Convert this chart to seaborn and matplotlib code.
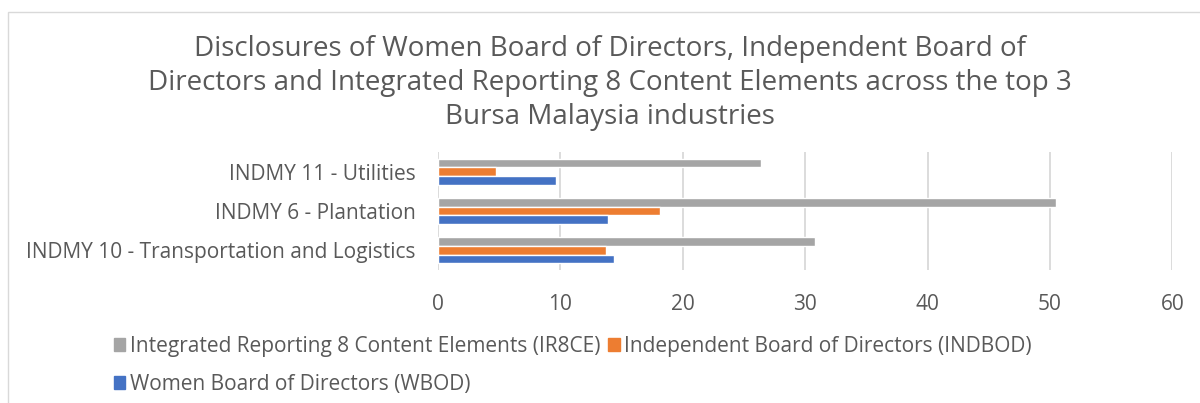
import matplotlib
matplotlib.use("Agg")
import matplotlib.pyplot as plt
import seaborn as sns
import pandas as pd
from matplotlib.patches import Rectangle

industries = [
    "INDMY 11 - Utilities",
    "INDMY 6 - Plantation",
    "INDMY 10 - Transportation and Logistics",
]
series = [
    "Integrated Reporting 8 Content Elements (IR8CE)",
    "Independent Board of Directors (INDBOD)",
    "Women Board of Directors (WBOD)",
]
ir8ce = [26.4, 50.5, 30.8]
indbod = [4.7, 18.1, 13.7]
wbod = [9.6, 13.9, 14.4]
colors = ["#a5a5a5", "#ed7d31", "#4472c4"]
xticks = [0, 10, 20, 30, 40, 50, 60]

df = pd.DataFrame({
    "industry": industries * 3,
    "series": [s for s in series for _ in industries],
    "value": ir8ce + indbod + wbod,
})

sns.set_theme(style="white")
plt.rcParams["font.family"] = ["Open Sans", "DejaVu Sans"]

fig = plt.figure(figsize=(12, 4.03), dpi=100)
ax = fig.add_axes([0.365, 0.33, 0.612, 0.293])

sns.barplot(data=df, y="industry", x="value", hue="series",
            order=industries, hue_order=series, palette=colors,
            orient="h", width=0.66, saturation=1, ax=ax, legend=False)

ax.set_xlim(0, 60)
ax.set_xticks(xticks)
ax.set_xlabel("")
ax.set_ylabel("")
ax.grid(axis="x", color="#d9d9d9", linewidth=1.3)
ax.set_axisbelow(True)
for s in ax.spines.values():
    s.set_visible(False)
ax.tick_params(axis="both", length=0, labelsize=15, colors="#595959")
ax.tick_params(axis="x", pad=17)
ax.tick_params(axis="y", pad=16)

fig.suptitle("Disclosures of Women Board of Directors, Independent Board of\n"
             "Directors and Integrated Reporting 8 Content Elements across the top 3\n"
             "Bursa Malaysia industries",
             x=0.508, y=0.912, fontsize=20, color="#595959", linespacing=1.27)

# legend: row 1 = IR8CE, INDBOD; row 2 = WBOD
handles = [Rectangle((0, 0), 1, 1, color=c) for c in colors]
order = [0, 2, 1]
fig.legend([handles[i] for i in order], [series[i] for i in order],
           ncol=2, loc="upper left", bbox_to_anchor=(0.095, 0.167),
           frameon=False, fontsize=15, handlelength=0.55, handleheight=0.55,
           handletextpad=0.2, columnspacing=0.4, labelspacing=0.82,
           labelcolor="#595959", borderpad=0, borderaxespad=0)

fig.patches.append(Rectangle((8 / 1200, -0.1), 1.2, 1 - 12 / 403 + 0.1,
                             transform=fig.transFigure, fill=False,
                             edgecolor="#d9d9d9", linewidth=1))

fig.savefig("out.png", dpi=100)
